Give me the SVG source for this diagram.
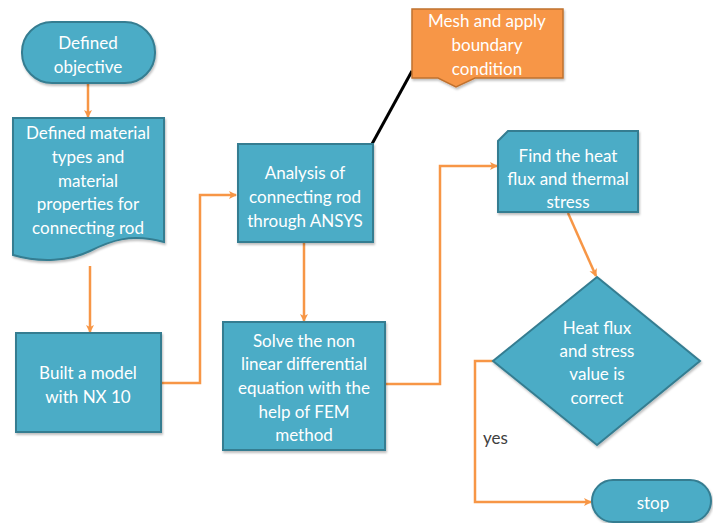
<svg xmlns="http://www.w3.org/2000/svg" width="713" height="523" viewBox="0 0 713 523">
<defs>
<marker id="ah" markerWidth="10" markerHeight="10" refX="8" refY="5" orient="auto" markerUnits="userSpaceOnUse">
<path d="M1,1 L9,5 L1,9 L3,5 Z" fill="#F79646"/>
</marker>
<filter id="sh" x="-10%" y="-10%" width="130%" height="130%">
<feDropShadow dx="1" dy="2" stdDeviation="1.2" flood-color="#000" flood-opacity="0.25"/>
</filter>
</defs>
<style>
.n{fill:#4BACC6;stroke:#357D91;stroke-width:2;filter:url(#sh)}
.o{fill:#F79646;stroke:#C0712F;stroke-width:1.5;filter:url(#sh)}
.t{font-family:Lato,"Liberation Sans",sans-serif;font-size:17px;fill:#ffffff;text-anchor:middle;dominant-baseline:central}
.c{fill:none;stroke:#F79646;stroke-width:2.5}
.y{font-family:Lato,"Liberation Sans",sans-serif;font-size:17px;fill:#404040;dominant-baseline:central}
</style>
<rect width="713" height="523" fill="#ffffff"/>
<g id="connectors">
<line class="c" x1="88" y1="84" x2="88" y2="117" marker-end="url(#ah)"/>
<line class="c" x1="90" y1="266" x2="90" y2="332" marker-end="url(#ah)"/>
<polyline class="c" points="161,383 200,383 200,195 236,195" marker-end="url(#ah)"/>
<line class="c" x1="304" y1="243" x2="304" y2="321" marker-end="url(#ah)"/>
<polyline class="c" points="385,384 440,384 440,166 497,166" marker-end="url(#ah)"/>
<line class="c" x1="568" y1="213" x2="596" y2="276" marker-end="url(#ah)"/>
<polyline class="c" points="493,361 475,361 475,502 591,502" marker-end="url(#ah)"/>
<line x1="412" y1="71" x2="372" y2="144" stroke="#000" stroke-width="3"/>
</g>
<g id="defined-objective">
<rect class="n" x="22" y="22" width="133" height="61" rx="30"/>
<text class="t" x="88" y="42">Defined</text>
<text class="t" x="88" y="66">objective</text>
</g>
<g id="material-types">
<path class="n" d="M13,118 H164 V242 C130,233 110,241 90,251 C70,261 40,263 13,255 Z"/>
<text class="t" x="88" y="132">Defined material</text>
<text class="t" x="88" y="156">types and</text>
<text class="t" x="88" y="180">material</text>
<text class="t" x="88" y="203">properties for</text>
<text class="t" x="88" y="227">connecting rod</text>
</g>
<g id="built-model">
<rect class="n" x="16" y="333" width="145" height="99"/>
<text class="t" x="88" y="372">Built a model</text>
<text class="t" x="88" y="396">with NX 10</text>
</g>
<g id="analysis">
<rect class="n" x="238" y="144" width="135" height="98"/>
<text class="t" x="305" y="172">Analysis of</text>
<text class="t" x="305" y="196">connecting rod</text>
<text class="t" x="305" y="220">through ANSYS</text>
</g>
<g id="mesh">
<path class="o" d="M412,9 H563 V78 H475 L456,87 L438,78 H412 Z"/>
<text class="t" x="487" y="20">Mesh and apply</text>
<text class="t" x="487" y="44">boundary</text>
<text class="t" x="487" y="68">condition</text>
</g>
<g id="solve">
<rect class="n" x="223" y="322" width="162" height="128"/>
<text class="t" x="304" y="340">Solve the non</text>
<text class="t" x="304" y="363">linear differential</text>
<text class="t" x="304" y="387">equation with the</text>
<text class="t" x="304" y="411">help of FEM</text>
<text class="t" x="304" y="434">method</text>
</g>
<g id="find-heat-flux">
<path class="n" d="M508,131 H638 V212 H498 V141 Z"/>
<text class="t" x="568" y="155">Find the heat</text>
<text class="t" x="568" y="178">flux and thermal</text>
<text class="t" x="568" y="201">stress</text>
</g>
<g id="decision">
<path class="n" d="M597,277 L700,361 L597,445 L493,361 Z"/>
<text class="t" x="597" y="327">Heat flux</text>
<text class="t" x="597" y="350">and stress</text>
<text class="t" x="597" y="373">value is</text>
<text class="t" x="597" y="397">correct</text>
</g>
<text class="y" x="483" y="437">yes</text>
<g id="stop">
<rect class="n" x="592" y="480" width="119" height="42" rx="21"/>
<text class="t" x="653" y="502">stop</text>
</g>
</svg>
